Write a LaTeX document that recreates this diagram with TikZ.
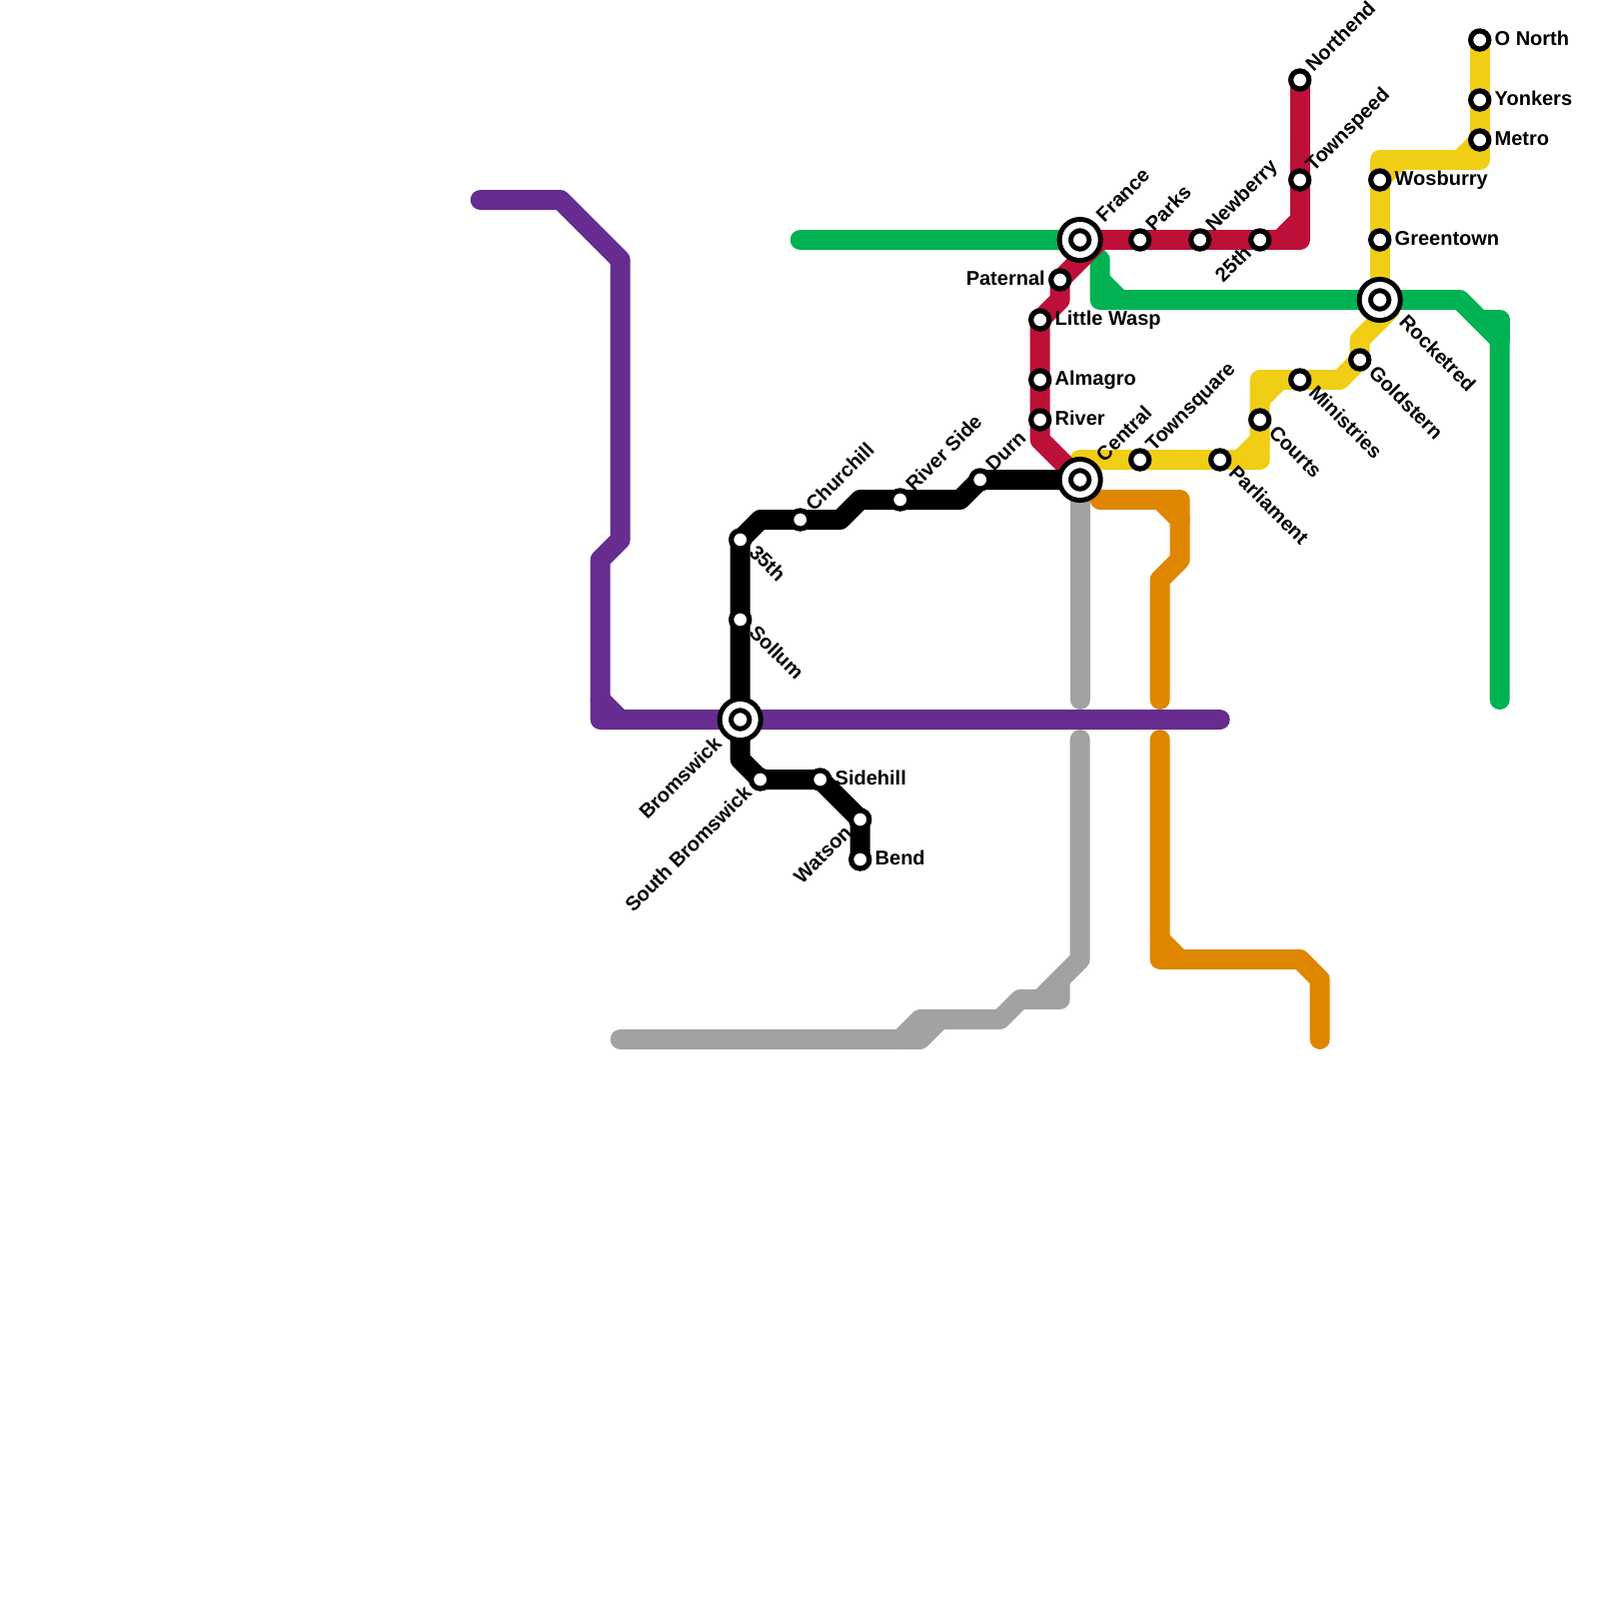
\documentclass[tikz,border=0pt]{standalone}
\usepackage{fontspec}
\setmainfont{Liberation Sans}
\usetikzlibrary{backgrounds}
\definecolor{mpurple}{HTML}{662C90}
\definecolor{mgreen}{HTML}{00B251}
\definecolor{mred}{HTML}{BD1038}
\definecolor{myellow}{HTML}{F0CE15}
\definecolor{morange}{HTML}{DF8600}
\definecolor{mgray}{HTML}{A2A2A2}
\tikzset{
  metro/.style={line width=2mm,line cap=round,line join=round},
  stn/.style={circle,draw=black,fill=white,line width=0.52mm,minimum size=1.82mm,inner sep=0pt,outer sep=0pt},
  stnx/.style={circle,draw=black,fill=white,double=white,line width=0.5mm,double distance=0.63mm,minimum size=2.97mm,inner sep=0pt,outer sep=0pt},
  txt/.style={font=\fontsize{5.69pt}{6pt}\selectfont\bfseries,inner sep=0pt,outer sep=0pt,text=black},
  lblE/.style={txt,anchor=base west,xshift=1.5mm,yshift=-0.55mm},
  lblW/.style={txt,anchor=base east,xshift=-1.5mm,yshift=-0.55mm},
  lblNE/.style={txt,anchor=base west,xshift=1.4mm,yshift=0.75mm,rotate=45},
  lblSE/.style={txt,anchor=base west,xshift=0.8mm,yshift=-1.4mm,rotate=-45},
  lblSW/.style={txt,anchor=base east,xshift=-0.75mm,yshift=-1.45mm,rotate=45},
  lblNEx/.style={txt,anchor=base west,xshift=2.45mm,yshift=1.7mm,rotate=45},
  lblSEx/.style={txt,anchor=base west,xshift=1.85mm,yshift=-2.35mm,rotate=-45},
  lblSWx/.style={txt,anchor=base east,xshift=-1.75mm,yshift=-2.55mm,rotate=45}
}
\begin{document}
\begin{tikzpicture}[x=0.1mm,y=-0.1mm]
\useasboundingbox (-0.7,0) rectangle (1599.3,1600);
% stations
\foreach \n/\x/\y/\s/\l/\t in {
  onorth/1480/40/stn/lblE/O North,yonkers/1480/100/stn/lblE/Yonkers,metrostn/1480/140/stn/lblE/Metro,
  wosburry/1380/180/stn/lblE/Wosburry,greentown/1380/240/stn/lblE/Greentown,rocketred/1380/300/stnx/lblSEx/Rocketred,
  goldstern/1360/360/stn/lblSE/Goldstern,ministries/1300/380/stn/lblSE/Ministries,courts/1260/420/stn/lblSE/Courts,
  parliament/1220/460/stn/lblSE/Parliament,townsquare/1140/460/stn/lblNE/Townsquare,central/1080/480/stnx/lblNEx/Central,
  durn/980/480/stn/lblNE/Durn,riverside/900/500/stn/lblNE/River Side,churchill/800/520/stn/lblNE/Churchill,
  thirtyfifth/740/540/stn/lblSE/35th,sollum/740/620/stn/lblSE/Sollum,bromswick/740/720/stnx/lblSWx/Bromswick,
  southbrom/760/780/stn/lblSW/South Bromswick,sidehill/820/780/stn/lblE/Sidehill,watson/860/820/stn/lblSW/Watson,
  bend/860/860/stn/lblE/Bend,river/1040/420/stn/lblE/River,almagro/1040/380/stn/lblE/Almagro,
  littlewasp/1040/320/stn/lblE/Little Wasp,paternal/1060/280/stn/lblW/Paternal,france/1080/240/stnx/lblNEx/France,
  parks/1140/240/stn/lblNE/Parks,newberry/1200/240/stn/lblNE/Newberry,twentyfifth/1260/240/stn/lblSW/25th,
  townspeed/1300/180/stn/lblNE/Townspeed,northend/1300/80/stn/lblNE/Northend}
{
  \node[\s] (\n) at (\x,\y) {};
  \node[\l] (\n-l) at (\n) {\t};
}
% lines
\begin{scope}[on background layer]
\draw[metro,mgreen] (800,240) -- (france.center) -- (1100,260) -- (1100,300) -- (rocketred.center) -- (1460,300) -- (1500,340) -- (1500,700);
\draw[metro,mgreen] (1100,280) -- (1120,300);
\draw[metro,mgreen] (1480,320) -- (1500,320) -- (1500,340);
\draw[metro,mpurple] (480,200) -- (560,200) -- (620,260) -- (620,540) -- (600,560) -- (600,720) -- (bromswick.center) -- (1220,720);
\draw[metro,mpurple] (600,700) -- (620,720);
\draw[metro,mgray] (central.center) -- (1080,700);
\draw[metro,mgray] (1080,740) -- (1080,960) -- (1040,1000);
\draw[metro,mgray] (1060,980) -- (1060,1000) -- (1020,1000) -- (1000,1020) -- (920,1020) -- (900,1040);
\draw[metro,mgray] (940,1020) -- (920,1040) -- (620,1040);
\draw[metro,morange] (1100,500) -- (1180,500) -- (1180,560) -- (1160,580) -- (1160,700);
\draw[metro,morange] (1160,500) -- (1180,520);
\draw[metro,morange] (1160,740) -- (1160,960) -- (1300,960) -- (1320,980) -- (1320,1040);
\draw[metro,morange] (1160,940) -- (1180,960);
\draw[metro,myellow] (onorth.center) -- (yonkers.center) -- (metrostn.center) -- (1480,160) -- (1380,160) -- (wosburry.center) -- (greentown.center) -- (rocketred.center);
\draw[metro,myellow] (metrostn.center) -- (1460,160);
\draw[metro,myellow] (wosburry.center) -- (1400,160);
\draw[metro,myellow] (1390,310) -- (1360,340) -- (goldstern.center) -- (1340,380) -- (ministries.center) -- (1260,380) -- (courts.center) -- (1260,460) -- (parliament.center) -- (townsquare.center) -- (1080,460);
\draw[metro,myellow] (1260,400) -- (1280,380);
\draw[metro,myellow] (1240,460) -- (1260,440);
\draw[metro,mred] (northend.center) -- (townspeed.center) -- (1300,240) -- (twentyfifth.center) -- (newberry.center) -- (parks.center) -- (france.center);
\draw[metro,mred] (1280,240) -- (1300,220);
\draw[metro,mred] (1100,240) -- (paternal.center) -- (1060,300) -- (littlewasp.center) -- (almagro.center) -- (river.center) -- (1040,440) -- (central.center);
\draw[metro,black] (bend.center) -- (watson.center) -- (sidehill.center) -- (southbrom.center) -- (740,760) -- (bromswick.center) -- (sollum.center) -- (thirtyfifth.center) -- (760,520) -- (churchill.center) -- (840,520) -- (860,500) -- (riverside.center) -- (960,500) -- (durn.center) -- (central.center);
\end{scope}
\end{tikzpicture}
\end{document}
